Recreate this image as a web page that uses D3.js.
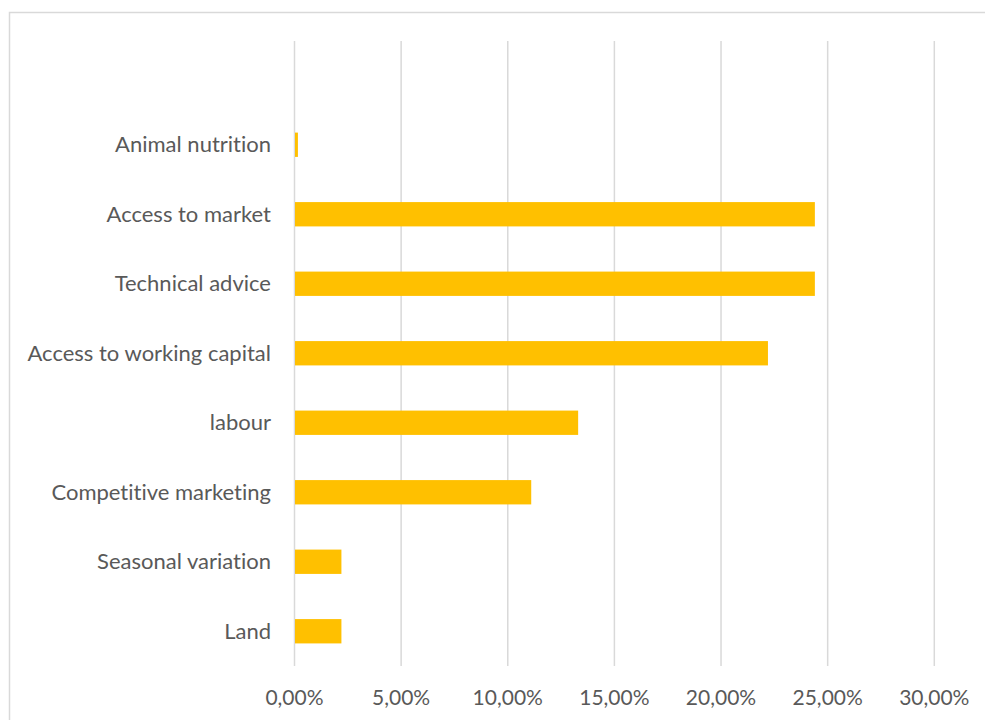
<!DOCTYPE html>
<html>
<head>
<meta charset="utf-8">
<script src="https://cdn.jsdelivr.net/npm/d3@7"></script>
<style>
  html, body { margin: 0; padding: 0; background: #fff; }
  svg { display: block; }
  text { font-variant-ligatures: none; font-feature-settings: "liga" 0; }
</style>
</head>
<body>
<svg id="chart" width="985" height="720"></svg>
<script>
// Constraint categories, listed bottom to top
const categories = [
  "Land",
  "Seasonal variation",
  "Competitive marketing",
  "labour",
  "Access to working capital",
  "Technical advice",
  "Access to market",
  "Animal nutrition"
];
// Share of respondents (percent)
const values = [2.2, 2.2, 11.1, 13.3, 22.2, 24.4, 24.4, 0.16];
// Axis ticks (percent)
const xTicks = [0, 5, 10, 15, 20, 25, 30];

const svg = d3.select("#chart");
const W = 985, H = 720;

// chart frame
svg.append("rect")
  .attr("x", 9.5).attr("y", 12.5)
  .attr("width", W + 10).attr("height", H + 10)
  .attr("fill", "#fff")
  .attr("stroke", "#d9d9d9").attr("stroke-width", 1.5);

const plotTop = 41, plotBottom = 666;
const x = d3.scaleLinear().domain([0, 30]).range([294.5, 934.3]);
const y = d3.scaleBand()
  .domain(categories)
  .range([plotBottom, 110])
  .paddingInner(0.65).paddingOuter(0.325);

// vertical gridlines
svg.append("g")
  .selectAll("line")
  .data(xTicks)
  .join("line")
  .attr("x1", d => x(d)).attr("x2", d => x(d))
  .attr("y1", plotTop).attr("y2", plotBottom)
  .attr("stroke", "#d9d9d9").attr("stroke-width", 1.5);

// bars
svg.append("g")
  .selectAll("rect")
  .data(categories)
  .join("rect")
  .attr("x", x(0) + 0.5)
  .attr("y", d => y(d))
  .attr("width", (d, i) => x(values[i]) - x(0) - 0.5)
  .attr("height", y.bandwidth())
  .attr("fill", "#FFC000");

const font = "Lato, 'Open Sans', sans-serif";

// category labels
svg.append("g")
  .selectAll("text")
  .data(categories)
  .join("text")
  .attr("x", 271)
  .attr("y", d => y(d) + y.bandwidth() / 2)
  .attr("dy", "0.35em")
  .attr("text-anchor", "end")
  .attr("font-family", font)
  .attr("font-size", 22)
  .attr("fill", "#595959")
  .text(d => d);

// x tick labels
const fmt = d => d.toFixed(2).replace(".", ",") + "%";
svg.append("g")
  .selectAll("text")
  .data(xTicks)
  .join("text")
  .attr("x", d => x(d))
  .attr("y", 705)
  .attr("text-anchor", "middle")
  .attr("font-family", font)
  .attr("font-size", 21)
  .attr("fill", "#595959")
  .text(fmt);
</script>
</body>
</html>
